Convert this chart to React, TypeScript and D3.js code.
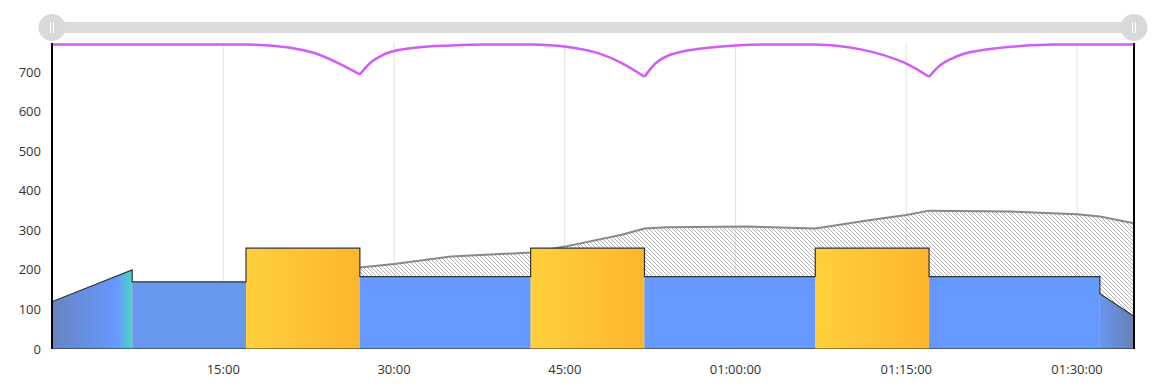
import React from 'react'
import * as d3 from 'd3'

// workout segments (minutes, watts)
const segStart = [0, 7, 17, 27, 42, 52, 67, 77, 92]
const segEnd = [7, 17, 27, 42, 52, 67, 77, 92, 95]
const segFrom = [120, 170, 255, 183, 255, 183, 255, 183, 140]
const segTo = [200, 170, 255, 183, 255, 183, 255, 183, 83]

// hatched "load" line
const loadMin = [27, 30, 35, 42, 45, 50, 52, 54, 61, 67, 72, 75, 77, 84, 90, 92, 95]
const loadVal = [206, 215, 234, 244, 259, 289, 305, 308, 310, 305, 327, 339, 350, 348, 341, 335, 318]

// W' balance (J)
const wbalMin = [
  0, 17, 19, 21, 23, 25, 27, 28, 29, 30, 32, 35, 38,
  42, 44, 46, 48, 50, 52, 53, 54, 55, 57, 60, 63,
  67, 69, 71, 73, 75, 77, 78, 79, 80, 82, 85, 88, 95,
]
const wbalVal = [
  20000, 20000, 19934, 19770, 19442, 18817, 18042, 18850, 19310, 19573, 19803, 19934, 20000,
  20000, 19934, 19760, 19420, 18780, 17884, 18785, 19244, 19474, 19737, 19934, 20000,
  20000, 19900, 19680, 19300, 18740, 17884, 18653, 19080, 19376, 19671, 19901, 20000, 20000,
]

const yTicks = [0, 100, 200, 300, 400, 500, 600, 700]
const xTicks = [15, 30, 45, 60, 75, 90]

const W = 1161
const H = 386
const left = 52.5
const right = 1134
const top = 43
const bottom = 349
const font = "'Open Sans', sans-serif"

const fmt = (m: number) => {
  const h = Math.floor(m / 60)
  const mm = String(m % 60).padStart(2, '0')
  return h > 0 ? `${String(h).padStart(2, '0')}:${mm}:00` : `${mm}:00`
}

const fillFor = (i: number) => {
  if (segTo[i] > segFrom[i]) return 'url(#gWarm)'
  if (segTo[i] < segFrom[i]) return 'url(#gCool)'
  if (segFrom[i] > 230) return 'url(#gYellow)'
  return segFrom[i] < 175 ? '#6897ee' : '#6699ff'
}

export default function App() {
  const x = d3.scaleLinear().domain([0, 95]).range([left, right])
  const y = d3.scaleLinear().domain([0, 774]).range([bottom, top])
  const yW = d3.scaleLinear().domain([0, 20000]).range([bottom, 44.5])

  const loadPts = loadMin.map((m, i) => [m, loadVal[i]] as [number, number])
  const loadArea = d3.area<[number, number]>().x(d => x(d[0])).y0(y(0)).y1(d => y(d[1]))(loadPts) || ''
  const loadLine = d3.line<[number, number]>().x(d => x(d[0])).y(d => y(d[1]))(loadPts) || ''

  // split W' at its minima so each dip keeps a sharp corner
  const wPts = wbalMin.map((m, i) => [m, wbalVal[i]] as [number, number])
  const chunks: [number, number][][] = [[]]
  wPts.forEach((p, i) => {
    chunks[chunks.length - 1].push(p)
    const prev = wPts[i - 1], next = wPts[i + 1]
    if (prev && next && p[1] < prev[1] && p[1] < next[1]) chunks.push([p])
  })
  const wGen = d3.line<[number, number]>().x(d => x(d[0])).y(d => yW(d[1])).curve(d3.curveMonotoneX)
  const wLine = chunks.map(c => wGen(c) || '').join('')

  const outlinePts: [number, number][] = []
  segStart.forEach((s, i) => {
    outlinePts.push([x(s), y(segFrom[i])])
    outlinePts.push([x(segEnd[i]), y(segTo[i])])
  })
  const outline = d3.line()(outlinePts) || ''

  return (
    <svg width={W} height={H} style={{ position: 'absolute', left: 0, top: 0 }} fontFamily={font}>
      <defs>
        <pattern id="hatch" patternUnits="userSpaceOnUse" width={4} height={4}>
          <path d="M-1,-1 L5,5 M-1,3 L1,5 M3,-1 L5,1" stroke="#a0a0a0" strokeWidth={0.8} />
        </pattern>
        <linearGradient id="gWarm" x1="0" x2="1" y1="0" y2="0">
          <stop offset="0" stopColor="#6784c2" />
          <stop offset="0.82" stopColor="#6699ff" />
          <stop offset="1" stopColor="#48d8bf" />
        </linearGradient>
        <linearGradient id="gCool" x1="0" x2="1" y1="0" y2="0">
          <stop offset="0" stopColor="#6a96ee" />
          <stop offset="1" stopColor="#6580b3" />
        </linearGradient>
        <linearGradient id="gYellow" x1="0" x2="1" y1="0" y2="0">
          <stop offset="0" stopColor="#ffd03c" />
          <stop offset="1" stopColor="#fdb62f" />
        </linearGradient>
      </defs>

      {/* range slider */}
      <rect x={left} y={22} width={right - left} height={11} fill="#dcdcdc" />
      {[left - 0.5, right].map((cx, i) => (
        <g key={i}>
          <circle cx={cx} cy={27.5} r={13.5} fill="#d9d9d9" />
          <line x1={cx - 1.5} x2={cx - 1.5} y1={22} y2={33} stroke="#fff" strokeWidth={1} />
          <line x1={cx + 1.5} x2={cx + 1.5} y1={22} y2={33} stroke="#fff" strokeWidth={1} />
        </g>
      ))}

      {/* grid */}
      {xTicks.map(t => (
        <line key={t} x1={x(t)} x2={x(t)} y1={top} y2={bottom} stroke="#e2e2e2" strokeWidth={1} />
      ))}

      {/* load */}
      <path d={loadArea} fill="url(#hatch)" />
      <path d={loadLine} fill="none" stroke="#888" strokeWidth={2} />

      {/* workout blocks */}
      {segStart.map((s, i) => (
        <path
          key={i}
          d={`M${x(s)},${y(0)}L${x(s)},${y(segFrom[i])}L${x(segEnd[i])},${y(segTo[i])}L${x(segEnd[i])},${y(0)}Z`}
          fill={fillFor(i)}
        />
      ))}
      <path d={outline} fill="none" stroke="#333" strokeWidth={1.2} />
      <line x1={left} x2={right} y1={bottom - 0.5} y2={bottom - 0.5} stroke="rgba(0,0,0,0.4)" strokeWidth={1} />

      {/* W' balance */}
      <path d={wLine} fill="none" stroke="#d45cf6" strokeWidth={2.5} strokeLinejoin="round" />

      {/* axes */}
      <line x1={52} x2={52} y1={top} y2={bottom} stroke="#000" strokeWidth={2} />
      <line x1={right} x2={right} y1={top} y2={bottom} stroke="#000" strokeWidth={2} />
      {yTicks.map(t => (
        <text key={t} x={41} y={y(t)} dy="0.35em" textAnchor="end" fontSize={13} fill="#333">
          {t}
        </text>
      ))}
      {xTicks.map(t => (
        <text key={t} x={x(t)} y={373.5} textAnchor="middle" fontSize={13} fill="#333">
          {fmt(t)}
        </text>
      ))}
    </svg>
  )
}
